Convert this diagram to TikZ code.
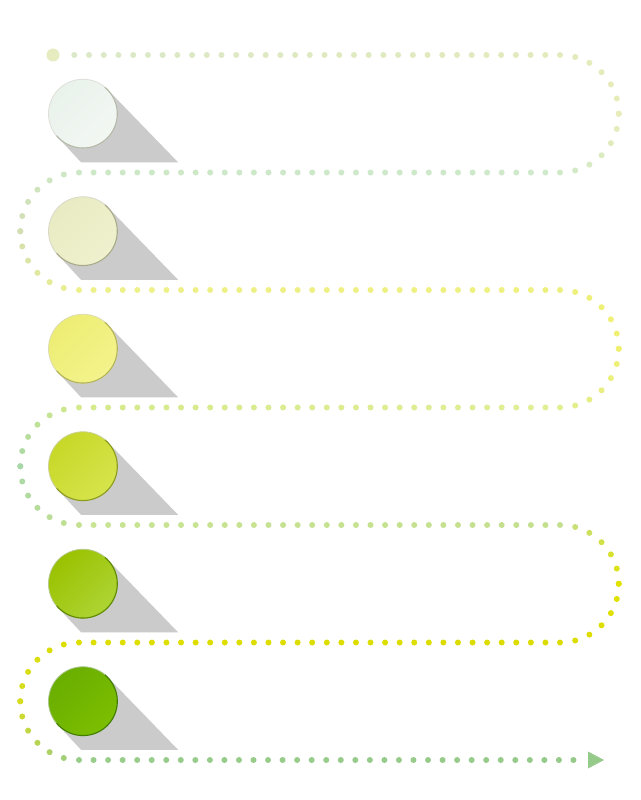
\documentclass[tikz,border=0pt]{standalone}
\usepackage{tikz}
\definecolor{shadowc}{HTML}{CBCBCB}
\definecolor{startc}{HTML}{E6ECC0}
\definecolor{arrowc}{HTML}{96CA8A}
% dot colours along the path
\definecolor{aA}{HTML}{DAE9C8}\definecolor{aB}{HTML}{E3EABC}
\definecolor{aM}{HTML}{E8ECB8}\definecolor{aC}{HTML}{CFE9C9}
\definecolor{bA}{HTML}{CFE9CB}\definecolor{bB}{HTML}{CCE8C6}
\definecolor{bM}{HTML}{D2DFB2}\definecolor{bC}{HTML}{EEF08A}
\definecolor{cA}{HTML}{EEF08A}\definecolor{cB}{HTML}{EEF07E}
\definecolor{cM}{HTML}{EFF070}\definecolor{cC}{HTML}{E2EE90}
\definecolor{dA}{HTML}{D4EA8C}\definecolor{dB}{HTML}{E2EE96}
\definecolor{dM}{HTML}{A8D8A8}\definecolor{dC}{HTML}{C4E090}
\definecolor{eA}{HTML}{C8E494}\definecolor{eB}{HTML}{C4E08E}
\definecolor{eM}{HTML}{E0E200}\definecolor{eC}{HTML}{DCDC00}
\definecolor{fA}{HTML}{DCDC00}\definecolor{fB}{HTML}{DEDE00}
\definecolor{fM}{HTML}{D6DC20}\definecolor{fC}{HTML}{98CC88}
\definecolor{gA}{HTML}{98CD8C}\definecolor{gB}{HTML}{96CA8A}
% ball colours
\definecolor{k1a}{HTML}{EAF2EC}\definecolor{k1b}{HTML}{F2F7F2}\definecolor{k1c}{HTML}{B4B8A8}
\definecolor{k2a}{HTML}{E8EBC2}\definecolor{k2b}{HTML}{EFF1CE}\definecolor{k2c}{HTML}{A8AA8A}
\definecolor{k3a}{HTML}{EDED74}\definecolor{k3b}{HTML}{F3F38C}\definecolor{k3c}{HTML}{B4B45A}
\definecolor{k4a}{HTML}{C8D828}\definecolor{k4b}{HTML}{D6E44C}\definecolor{k4c}{HTML}{8C9C1E}
\definecolor{k5a}{HTML}{9AC200}\definecolor{k5b}{HTML}{AED434}\definecolor{k5c}{HTML}{5E8A00}
\definecolor{k6a}{HTML}{6AAE00}\definecolor{k6b}{HTML}{7CBE00}\definecolor{k6c}{HTML}{427E00}
\tikzset{
  ball/.style={circle, minimum size=69pt, inner sep=0pt, line width=0.8pt},
  rim/.style={line width=1.1pt},
  pathdot/.style={fill=dc}
}
% straight run of dots: y, xa, xb, intervals, colour at xa, colour at xb (endpoints excluded)
\newcommand\dotline[6]{%
  \pgfmathtruncatemacro\nlast{#4-1}%
  \pgfmathsetmacro\stp{(#3-#2)/#4}%
  \foreach \i in {1,...,\nlast}{%
    \pgfmathsetmacro\pp{100/#4*\i}%
    \pgfmathsetmacro\xx{#2+\stp*\i}%
    \colorlet{dc}{#6!\pp!#5}%
    \fill[pathdot] (\xx,#1) circle[radius=3];
  }}
% arc of dots: cx, cy, a0, a1, colour at a0, colour at a1 (6 intervals, endpoints included)
\newcommand\dotarc[6]{%
  \foreach \i in {0,...,6}{%
    \pgfmathsetmacro\pp{100/6*\i}%
    \pgfmathsetmacro\aa{#3+(#4-#3)/6*\i}%
    \colorlet{dc}{#6!\pp!#5}%
    \fill[pathdot] ({#1+58.75*cos(\aa)},{#2+58.75*sin(\aa)}) circle[radius=3];
  }}
\newcommand\rightturn[4]{\dotarc{560}{#1}{-90}{0}{#2}{#3}\dotarc{560}{#1}{0}{90}{#3}{#4}}
\newcommand\leftturn[4]{\dotarc{79}{#1}{270}{180}{#2}{#3}\dotarc{79}{#1}{180}{90}{#3}{#4}}
% one row: node name, centre y, fill a, fill b, border
\newcommand\rowitem[5]{%
  \fill[shadowc] (107.4,#2-24.4) -- (178,#2+48.5) -- (81,#2+48.5) -- (58.6,#2+24.4) -- cycle;
  \node[ball, draw=#5!45!white, left color=#3, right color=#4, shading angle=45] (#1) at (83,#2) {};
  \draw[rim, #5, line cap=round] plot[domain=-140:50, samples=50] ({83+34.3*cos(\x)},{#2-34.3*sin(\x)});
}
\begin{document}
\begin{tikzpicture}[x=1pt,y=-1pt]
\fill[white] (0,0) rectangle (640,800);
\useasboundingbox (0,0) rectangle (640,800);
% dotted path
\fill[startc] (53,55) circle[radius=6.5];
\dotline{55}{59.6}{560}{34}{aA}{aB}
\rightturn{113.75}{aB}{aM}{aC}
\dotline{172.5}{560}{79}{33}{bA}{bB}
\leftturn{231.25}{bB}{bM}{bC}
\dotline{290}{79}{560}{33}{cA}{cB}
\rightturn{348.75}{cB}{cM}{cC}
\dotline{407.5}{560}{79}{33}{dB}{dA}
\leftturn{466.25}{dA}{dM}{dC}
\dotline{525}{79}{560}{33}{eA}{eB}
\rightturn{583.75}{eB}{eM}{eC}
\dotline{642.5}{560}{79}{33}{fA}{fB}
\leftturn{701.25}{fB}{fM}{fC}
\dotline{760}{79}{588}{35}{gA}{gB}
\coordinate (tip) at (604,760);
\fill[arrowc] (588,751.5) -- (tip) -- (588,768.5) -- cycle;
% rows
\rowitem{s1}{113.75}{k1a}{k1b}{k1c}
\rowitem{s2}{231.25}{k2a}{k2b}{k2c}
\rowitem{s3}{348.75}{k3a}{k3b}{k3c}
\rowitem{s4}{466.25}{k4a}{k4b}{k4c}
\rowitem{s5}{583.75}{k5a}{k5b}{k5c}
\rowitem{s6}{701.25}{k6a}{k6b}{k6c}
\end{tikzpicture}
\end{document}
